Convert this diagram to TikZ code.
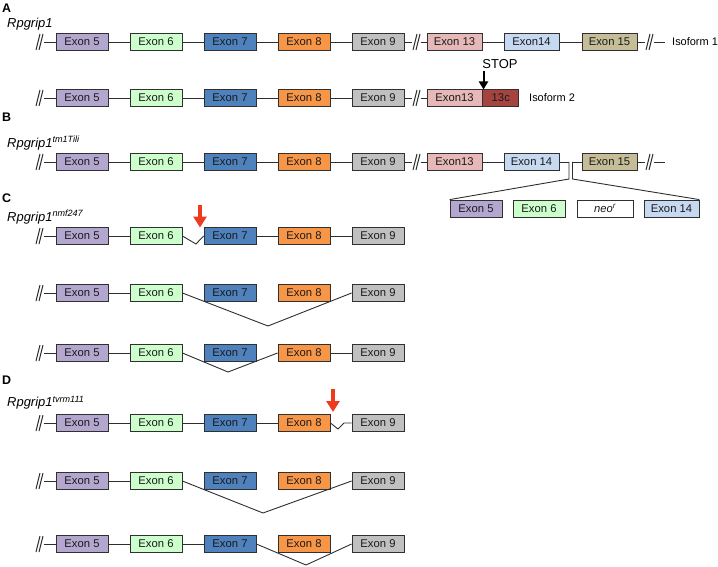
\documentclass[tikz,border=0pt]{standalone}
\usepackage{fontspec}
\setmainfont{Liberation Sans}
\usepackage{xcolor}
\definecolor{ExFive}{HTML}{B4A7CF}
\definecolor{ExSix}{HTML}{CCFFCC}
\definecolor{ExSeven}{HTML}{4F81BD}
\definecolor{ExEight}{HTML}{F79646}
\definecolor{ExNine}{HTML}{C0C0C0}
\definecolor{ExThirteen}{HTML}{E6B9B8}
\definecolor{ExFourteen}{HTML}{C6D9F1}
\definecolor{ExFifteen}{HTML}{C4BD97}
\definecolor{ExStop}{HTML}{A5443F}
\definecolor{BoxLine}{HTML}{303030}
\definecolor{IntronLine}{HTML}{2E2E2E}
\definecolor{ExText}{HTML}{1A1A1A}
\definecolor{MutRed}{HTML}{EE3A1F}
\usepackage{tikz}
\usetikzlibrary{arrows.meta}
\tikzset{
  exon/.style={
    draw=BoxLine,
    line width=0.8bp,
    minimum width=52bp,
    minimum height=17bp,
    inner sep=0pt,
    text=ExText,
    font=\fontsize{11.3}{12}\selectfont
  },
  exfive/.style={exon, fill=ExFive},
  exsix/.style={exon, fill=ExSix},
  exseven/.style={exon, fill=ExSeven},
  exeight/.style={exon, fill=ExEight},
  exnine/.style={exon, fill=ExNine},
  exthirteen/.style={exon, fill=ExThirteen, minimum width=55bp},
  exfourteen/.style={exon, fill=ExFourteen, minimum width=55bp},
  exfifteen/.style={exon, fill=ExFifteen, minimum width=55bp},
  exstop/.style={exon, fill=ExStop, minimum width=36bp},
  exneo/.style={exon, fill=white, minimum width=56bp},
  intron/.style={draw=IntronLine, line width=0.9bp},
  brk/.style={
    minimum width=8bp,
    minimum height=16bp,
    inner sep=0pt,
    path picture={
      \draw[IntronLine, line width=1bp]
        ([xshift=0.5bp]path picture bounding box.south west) -- ([xshift=-3.5bp]path picture bounding box.north east)
        ([xshift=3.5bp]path picture bounding box.south west) -- ([xshift=-0.5bp]path picture bounding box.north east);
    }
  },
  panel/.style={anchor=west, inner sep=0pt, font=\fontsize{12.5}{13}\selectfont\bfseries},
  allele/.style={anchor=west, inner sep=0pt, font=\fontsize{13}{14}\selectfont\itshape},
  isolabel/.style={anchor=west, inner sep=0pt, font=\fontsize{11}{12}\selectfont},
  mutarrow/.style={draw=MutRed, line width=3.2bp, -{Triangle[width=13bp,length=11bp]}},
  stoparrow/.style={draw=black, line width=2bp, -{Triangle[width=9bp,length=8bp]}}
}

\begin{document}
\begin{tikzpicture}[x=1bp,y=-1bp]
  \useasboundingbox (0,0) rectangle (718,567);
  % panel letters and alleles
  \node[panel] (pA) at (2,8.5) {A};
  \node[allele] (nA) at (7,24) {Rpgrip1};
  \node[panel] (pB) at (2,117) {B};
  \node[allele] (nB) at (7,143) {Rpgrip1\textsuperscript{tm1Tili}};
  \node[panel] (pC) at (2,198.5) {C};
  \node[allele] (nC) at (7,217) {Rpgrip1\textsuperscript{nmf247}};
  \node[panel] (pD) at (2,380.5) {D};
  \node[allele] (nD) at (7,403) {Rpgrip1\textsuperscript{tvrm111}};

  % exons 5 to 9, in every row
  \foreach \r/\y in {isoa/42,isob/98,tm/162,nmfa/236,nmfb/293,nmfc/353,tvra/423,tvrb/481,tvrc/544}{
    \node[brk] (\r0) at (39.5,\y) {};
    \node[exfive] (\r5) at (82,\y) {Exon 5};
    \node[exsix] (\r6) at (156,\y) {Exon 6};
    \node[exseven] (\r7) at (230,\y) {Exon 7};
    \node[exeight] (\r8) at (304,\y) {Exon 8};
    \node[exnine] (\r9) at (378,\y) {Exon 9};
    \draw[intron] (\r0) -- (\r5) -- (\r6);
  }
  \foreach \r/\y in {isoa/42,isob/98,tm/162}{
    \node[brk] (\r9b) at (416.5,\y) {};
    \draw[intron] (\r6) -- (\r7) -- (\r8) -- (\r9) -- (\r9b);
  }

  % A: isoform 1
  \node[exthirteen] (isoa13) at (454.5,42) {Exon 13};
  \node[exfourteen] (isoa14) at (531.5,42) {Exon14};
  \node[exfifteen] (isoa15) at (609.5,42) {Exon 15};
  \node[brk] (isoa15b) at (649.5,42) {};
  \coordinate (isoaend) at (665,42);
  \draw[intron] (isoa9b) -- (isoa13) -- (isoa14) -- (isoa15) -- (isoa15b) -- (isoaend);
  \node[isolabel] (isoalab) at (672,42) {Isoform 1};

  % A: isoform 2
  \node[exthirteen] (isob13) at (454.5,98) {Exon13};
  \node[exstop, anchor=west] (isob13c) at (isob13.east) {13c};
  \draw[intron] (isob9b) -- (isob13);
  \node[isolabel] (isoblab) at (529,98) {Isoform 2};
  \node[font=\fontsize{13}{14}\selectfont, inner sep=0pt] (stop) at (500,64.5) {STOP};
  \coordinate (stoptop) at (483.5,71);
  \coordinate (stoptip) at (483.5,89.5);
  \draw[stoparrow] (stoptop) -- (stoptip);

  % B: targeted allele
  \node[exthirteen] (tm13) at (454.5,162) {Exon13};
  \node[exfourteen] (tm14) at (531.5,162) {Exon 14};
  \node[exfifteen] (tm15) at (609.5,162) {Exon 15};
  \node[brk] (tm15b) at (649.5,162) {};
  \coordinate (tmend) at (665,162);
  \coordinate (insa) at (569,162);
  \coordinate (insb) at (572.5,162);
  \coordinate (insc) at (569,179);
  \coordinate (insd) at (572.5,179);
  \draw[intron] (tm9b) -- (tm13) -- (tm14) -- (insa);
  \draw[intron] (insb) -- (tm15) -- (tm15b) -- (tmend);
  \node[exfive] (neo5) at (476,208.5) {Exon 5};
  \node[exsix] (neo6) at (539,208.5) {Exon 6};
  \node[exneo] (neor) at (605,208.5) {\itshape neo\textsuperscript{r}};
  \node[exfourteen] (neo14) at (671.5,208.5) {Exon 14};
  \draw[intron] (insa) -- (insc) -- (neo5.north west);
  \draw[intron] (insb) -- (insd) -- (neo14.north east);

  % C: nmf247
  \coordinate (nmftop) at (200,205);
  \coordinate (nmftip) at (200,227.5);
  \draw[mutarrow] (nmftop) -- (nmftip);
  \draw[intron] (nmfa6.east) -- (196,244) -- (nmfa7.west);
  \draw[intron] (nmfa7) -- (nmfa8) -- (nmfa9);
  \draw[intron] (nmfb6.east) -- (268,326) -- (nmfb9.west);
  \draw[intron] (nmfc6.east) -- (228,372) -- (nmfc8.west);
  \draw[intron] (nmfc8) -- (nmfc9);

  % D: tvrm111
  \coordinate (tvrtop) at (333,389);
  \coordinate (tvrtip) at (333,412);
  \draw[mutarrow] (tvrtop) -- (tvrtip);
  \draw[intron] (tvra6) -- (tvra7) -- (tvra8);
  \draw[intron] (tvra8.east) -- (338,429) -- (344,423) -- (tvra9.west);
  \draw[intron] (tvrb6.east) -- (263,513) -- (tvrb9.west);
  \draw[intron] (tvrc6) -- (tvrc7);
  \draw[intron] (tvrc7.east) -- (306,565) -- (tvrc9.west);
\end{tikzpicture}
\end{document}
